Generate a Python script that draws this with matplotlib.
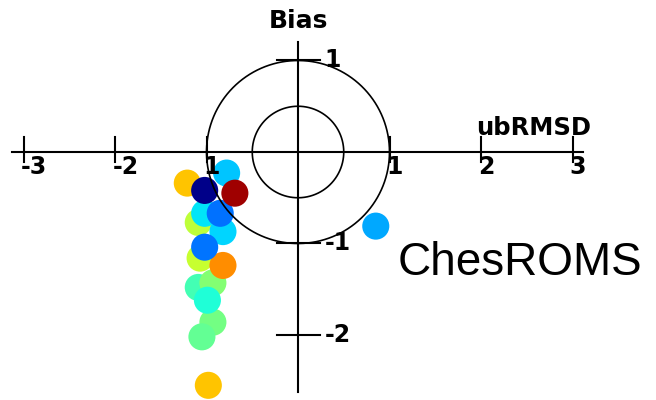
"""Target diagram (bias vs. unbiased RMSD) for ChesROMS."""

import numpy as np
import matplotlib

matplotlib.use("Agg")
import matplotlib.pyplot as plt

# normalised unbiased RMSD (signed) and bias for each station/variable
ubrmsd = [-0.98, -0.93, -1.05, -1.09, -0.93, -0.99, -1.07, -0.82, -1.09,
          -0.82, -1.02, -1.02, -0.85, -1.21, -1.02, -0.78, -0.69, 0.85]
bias = [-2.55, -1.86, -2.02, -1.48, -1.43, -1.62, -1.16, -1.24, -0.77,
        -0.87, -1.04, -0.67, -0.67, -0.34, -0.42, -0.23, -0.45, -0.81]
# value used to colour each point on the jet scale
color_value = [0.70, 0.49, 0.47, 0.43, 0.51, 0.39, 0.59, 0.76, 0.58,
               0.335, 0.24, 0.35, 0.235, 0.70, 0.01, 0.32, 0.97, 0.29]

x_ticks = [-3, -2, -1, 1, 2, 3]
x_tick_labels = ["-3", "-2", "1", "1", "2", "3"]
y_ticks = [1, -1, -2]
y_tick_labels = ["1", "-1", "-2"]
circle_radii = [0.5, 1.0]

fig = plt.figure(figsize=(6.56, 4.0), dpi=100)
ax = fig.add_axes([0, 0, 1, 1])
ax.set_xlim(-298 / 91.5, 358 / 91.5)
ax.set_ylim(-248 / 91.5, 152 / 91.5)
ax.set_aspect("equal", adjustable="box")
ax.axis("off")

ax.scatter(ubrmsd, bias, c=color_value, cmap="jet", vmin=0, vmax=1,
           s=380, marker="o", linewidths=0, zorder=1)

lw = 1.5
ax.plot([-3.13, 3.11], [0, 0], color="black", lw=lw, zorder=2)
ax.plot([0, 0], [-2.62, 1.20], color="black", lw=lw, zorder=2)

theta = np.linspace(0, 2 * np.pi, 400)
for r in circle_radii:
    ax.plot(r * np.cos(theta), r * np.sin(theta), color="black", lw=1.2, zorder=2)

tick_font = dict(fontsize=17, fontweight="bold", family="DejaVu Sans", zorder=3)
for xt, lab in zip(x_ticks, x_tick_labels):
    ax.plot([xt, xt], [-0.11, 0.16], color="black", lw=lw, zorder=2)
    ax.text(xt - 0.03, -0.03, lab, ha="left", va="top", **tick_font)

for yt, lab in zip(y_ticks, y_tick_labels):
    ax.plot([-0.23, 0.24], [yt, yt], color="black", lw=lw, zorder=2)
    ax.text(0.29, yt, lab, ha="left", va="center", **tick_font)

ax.text(0, 1.355, "Bias", ha="center", va="baseline", fontsize=18,
        fontweight="bold", family="DejaVu Sans", zorder=3)
ax.text(1.95, 0.19, "ubRMSD", ha="left", va="baseline", fontsize=17.5,
        fontweight="bold", family="DejaVu Sans", zorder=3)
ax.text(1.09, -1.344, "ChesROMS", ha="left", va="baseline", fontsize=33,
        family="Liberation Sans", zorder=3)

fig.savefig("out.png", dpi=100)
plt.close(fig)
